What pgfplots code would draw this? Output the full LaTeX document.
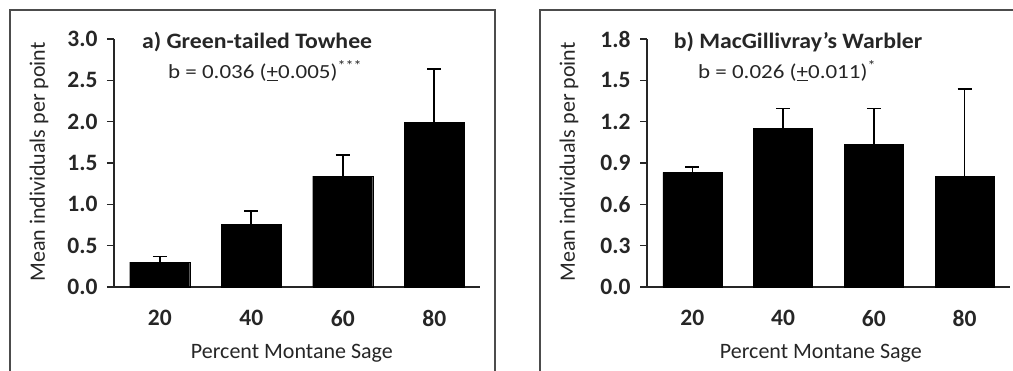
\documentclass[border=0pt]{standalone}
\usepackage{pgfplots}
\pgfplotsset{compat=1.18}
\usepackage{fontspec}
\setmainfont{Carlito}

\pgfplotstableread{
x y e
0 0.30 0.067
1 0.76 0.16
2 1.34 0.26
3 1.99 0.65
}\towhee
\pgfplotstableread{
x y e
0 0.832 0.040
1 1.150 0.145
2 1.035 0.260
3 0.805 0.630
}\warbler

\newcommand{\labfont}{\fontsize{22}{24}\selectfont}
\pgfplotsset{
  panel/.style={
    scale only axis, height=248pt,
    axis x line*=bottom, axis y line*=left,
    axis line style={line width=1.5pt, black!85},
    xmin=-0.5, xmax=3.5, ymin=0,
    xtick={0,1,2,3}, xticklabels={20,40,60,80},
    x tick style={draw=none},
    y tick style={line width=1.5pt, black!85},
    tick align=outside, major tick length=7pt,
    ytick pos=left,
    /pgf/number format/assume math mode=true,
    /pgf/number format/.cd, fixed, fixed zerofill, precision=1, /pgfplots/.cd,
    tick label style={font=\fontsize{23.5}{25}\selectfont\bfseries, black!85},
    xticklabel style={yshift=-13pt},
    yticklabel style={xshift=-6pt},
    ybar, bar width=60pt,
    clip=false,
  },
  bars/.style={fill=black, draw=black,
    error bars/.cd, y dir=plus, y explicit,
    error bar style={line width=1.6pt, black},
    error mark options={rotate=90, mark size=7pt, line width=1.6pt, black}},
}

\begin{document}
\begin{tikzpicture}[x=1pt,y=1pt]
\useasboundingbox (0,0) rectangle (1013,370);
\draw[line width=1.5pt, black!70] (10,-10) -- (10,360) -- (495,360) -- (495,-10);
\draw[line width=1.5pt, black!70] (540,-10) -- (540,360) -- (1030,360);

\begin{axis}[panel, at={(114pt,83pt)}, anchor=south west, width=366pt,
  ymax=3.0, ytick={0,0.5,...,3.0},
  ylabel={Mean individuals per point},
  xlabel={Percent Montane Sage},
  every axis y label/.style={at={(axis description cs:-0.205,0.504)}, rotate=90, anchor=center, font=\labfont, black!85},
  every axis x label/.style={at={(axis description cs:0.486,-0.266)}, anchor=center, font=\labfont, black!85},
]
\addplot[bars] table[x=x, y=y, y error=e] {\towhee};
\node[font=\fontsize{22}{24}\selectfont\bfseries, black!85] at (rel axis cs:0.391,0.988) {\scalebox{1.08}[1]{a) Green-tailed Towhee}};
\node[font=\fontsize{20}{22}\selectfont, black!85] at (rel axis cs:0.413,0.871) {\scalebox{1.15}[1]{b = 0.036 (\underline{+}0.005)\textsuperscript{***}}};
\end{axis}

\begin{axis}[panel, at={(647pt,83pt)}, anchor=south west, width=363pt,
  ymax=1.8, ytick={0,0.3,...,1.8},
  ylabel={Mean individuals per point},
  xlabel={Percent Montane Sage},
  bar width=59pt,
  every axis y label/.style={at={(axis description cs:-0.215,0.504)}, rotate=90, anchor=center, font=\labfont, black!85},
  every axis x label/.style={at={(axis description cs:0.479,-0.266)}, anchor=center, font=\labfont, black!85},
]
\addplot[bars] table[x=x, y=y, y error=e] {\warbler};
\node[font=\fontsize{22}{24}\selectfont\bfseries, black!85] at (rel axis cs:0.416,0.988) {\scalebox{1.08}[1]{b) MacGillivray's Warbler}};
\node[font=\fontsize{20}{22}\selectfont, black!85] at (rel axis cs:0.386,0.871) {\scalebox{1.15}[1]{b = 0.026 (\underline{+}0.011)\textsuperscript{*}}};
\end{axis}
\end{tikzpicture}
\end{document}
